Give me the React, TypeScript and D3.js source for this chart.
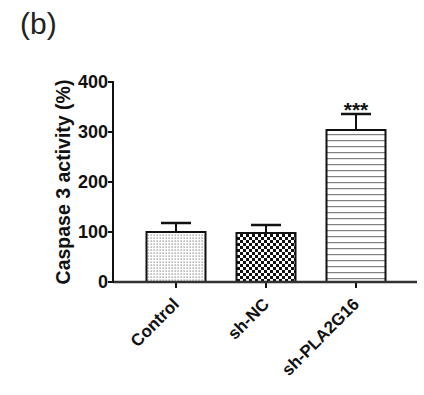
import React from "react";
import * as d3 from "d3";

const categories = ["Control", "sh-NC", "sh-PLA2G16"];
const means = [100, 98, 304];
const errors = [18, 16, 32];
const significance = ["", "", "***"];
const yTicks = [0, 100, 200, 300, 400];
const patterns = ["dots", "checker", "hlines"];

export default function App() {
  const W = 424, H = 395;
  const x0 = 113, x1 = 417;
  const y = d3.scaleLinear().domain([0, 400]).range([282, 82]);
  const x = d3.scalePoint<string>().domain(categories).range([176, 356]);
  const bw = 59;
  const font = "'Liberation Sans', Arial, sans-serif";
  return (
    <svg width={W} height={H} style={{ position: "absolute", left: 0, top: 0, background: "#fff" }}>
      <defs>
        <pattern id="dots" width="3" height="3" patternUnits="userSpaceOnUse">
          <rect width="3" height="3" fill="#fff" />
          <rect x="0.5" y="0.5" width="1.3" height="1.2" fill="#8a8a8a" />
        </pattern>
        <pattern id="checker" width="6" height="6" patternUnits="userSpaceOnUse">
          <rect width="6" height="6" fill="#fff" />
          <rect x="0" y="0" width="3" height="3" fill="#111" />
          <rect x="3" y="3" width="3" height="3" fill="#111" />
        </pattern>
        <pattern id="hlines" width="10" height="6" patternUnits="userSpaceOnUse">
          <rect width="10" height="6" fill="#fff" />
          <rect x="0" y="2" width="10" height="1.2" fill="#808080" />
        </pattern>
      </defs>
      <text x={20} y={34} fontFamily={font} fontSize={30} fill="#222">(b)</text>
      {categories.map((c, i) => {
        const xc = x(c) as number;
        const top = y(means[i]);
        const etop = y(means[i] + errors[i]);
        return (
          <g key={c}>
            <rect x={xc - bw / 2} y={top} width={bw} height={y(0) - top} fill={`url(#${patterns[i]})`} stroke="#111" strokeWidth={2} />
            <line x1={xc} x2={xc} y1={top} y2={etop} stroke="#111" strokeWidth={2} />
            <line x1={xc - 15} x2={xc + 15} y1={etop} y2={etop} stroke="#111" strokeWidth={2.5} />
            {significance[i] && (
              <text x={xc} y={etop + 3} textAnchor="middle" fontFamily={font} fontWeight="bold" fontSize={21} fill="#111">{significance[i]}</text>
            )}
            <line x1={xc} x2={xc} y1={y(0)} y2={y(0) + 6} stroke="#111" strokeWidth={2} />
            <text transform={`translate(${xc},${y(0) + 19}) rotate(-45)`} dy="0.35em" textAnchor="end" fontFamily={font} fontWeight="bold" fontSize={17} fill="#111">{c}</text>
          </g>
        );
      })}
      <line x1={x0} x2={x1} y1={y(0)} y2={y(0)} stroke="#333" strokeWidth={2.5} />
      <line x1={x0} x2={x0} y1={y(400) - 1} y2={y(0) + 1} stroke="#111" strokeWidth={2} />
      {yTicks.map(t => (
        <g key={t}>
          <line x1={x0 - 5} x2={x0} y1={y(t)} y2={y(t)} stroke="#111" strokeWidth={2} />
          <text x={x0 - 5} y={y(t)} dy="0.36em" textAnchor="end" fontFamily={font} fontWeight="bold" fontSize={18} fill="#111">{t}</text>
        </g>
      ))}
      <text transform={`translate(70,${y(200)}) rotate(-90)`} textAnchor="middle" fontFamily={font} fontWeight="bold" fontSize={19.5} fill="#111">Caspase 3 activity (%)</text>
    </svg>
  );
}
